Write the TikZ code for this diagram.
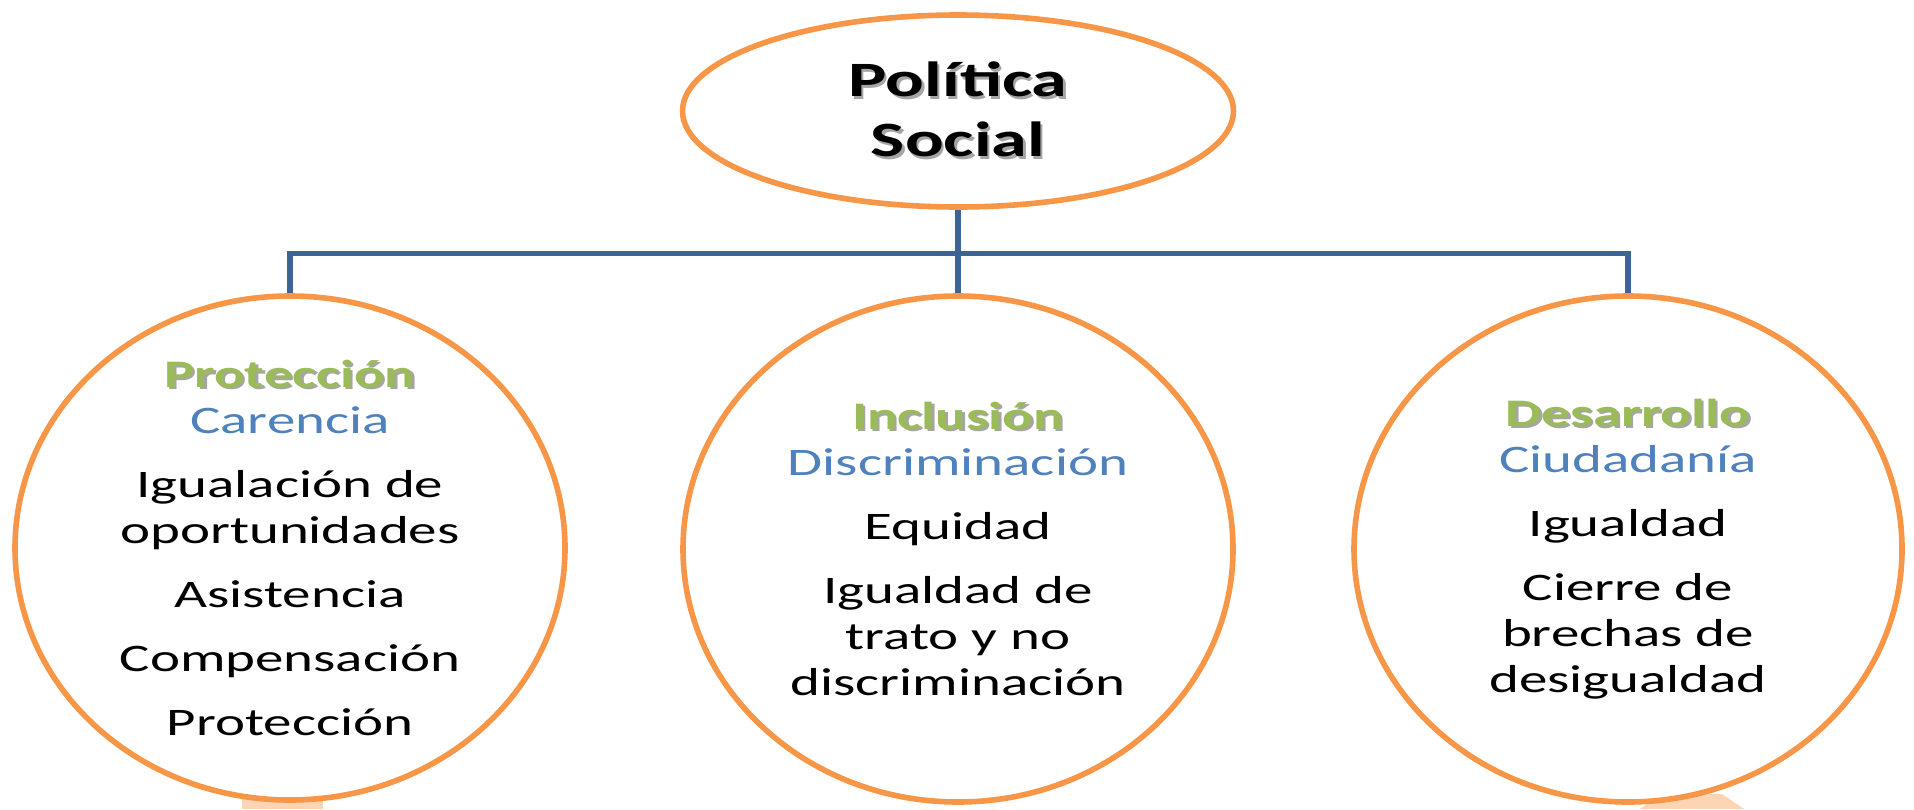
\documentclass[tikz,border=0pt]{standalone}
\usepackage{fontspec}
\setmainfont{Carlito}[FakeStretch=1.46]
\usetikzlibrary{shapes.geometric}

\definecolor{psOrange}{RGB}{247,150,70}
\definecolor{psPeach}{RGB}{252,213,180}
\definecolor{psLinkBlue}{RGB}{60,100,150}
\definecolor{psGreen}{RGB}{155,187,89}
\definecolor{psBlue}{RGB}{79,129,189}
\definecolor{psShadow}{RGB}{165,165,165}

\newcommand{\psShadowed}[1]{\leavevmode\rlap{\kern1.2pt\raisebox{-1.2pt}{\textcolor{psShadow}{#1}}}#1}

\tikzset{
  psOval/.style={ellipse, draw=psOrange, line width=2.8pt, fill=white, inner sep=0pt},
  psLabel/.style={align=center, text=black, inner sep=0pt, font=\fontsize{19.5}{23}\selectfont},
  psLink/.style={draw=psLinkBlue, line width=2.8pt, line join=miter},
}

\begin{document}
\begin{tikzpicture}[x=0.5pt, y=-0.5pt]
  \useasboundingbox (0,0) rectangle (1914,809);
  % pieces peeking out below the circles
  \fill[psPeach] (242,798) rectangle (323,809);
  \fill[psPeach] (1640,809) -- (1662,794) -- (1722,794) -- (1744,809) -- cycle;

  \node[psOval, minimum width=275.5pt, minimum height=96pt] (politica) at (958,111) {};
  \node[psLabel, font=\fontsize{24.7}{30}\selectfont\bfseries] (politicaText) at (politica.center)
    {\psShadowed{Política}\\\psShadowed{Social}};

  \node[psOval, minimum width=275pt, minimum height=252pt] (proteccion) at (290,548) {};
  \node[psLabel] (proteccionText) at (proteccion.center) {%
    {\bfseries\color{psGreen}\psShadowed{Protección}}\\
    {\color{psBlue}Carencia}\\[9pt]
    Igualación de\\oportunidades\\[9pt]
    Asistencia\\[9pt]
    Compensación\\[9pt]
    Protección};

  \node[psOval, minimum width=275pt, minimum height=253pt] (inclusion) at (958,549) {};
  \node[psLabel] (inclusionText) at (inclusion.center) {%
    {\bfseries\color{psGreen}\psShadowed{Inclusión}}\\
    {\color{psBlue}Discriminación}\\[9pt]
    Equidad\\[9pt]
    Igualdad de\\trato y no\\discriminación};

  \node[psOval, minimum width=274pt, minimum height=253pt] (desarrollo) at (1628,549) {};
  \node[psLabel] (desarrolloText) at (desarrollo.center) {%
    {\bfseries\color{psGreen}\psShadowed{Desarrollo}}\\
    {\color{psBlue}Ciudadanía}\\[9pt]
    Igualdad\\[9pt]
    Cierre de\\brechas de\\desigualdad};

  % tree connectors
  \coordinate (bus) at (958,253.5);
  \draw[psLink] (politica.south) -- (inclusion.north);
  \draw[psLink] (proteccion.north) |- (bus) -| (desarrollo.north);
\end{tikzpicture}
\end{document}
